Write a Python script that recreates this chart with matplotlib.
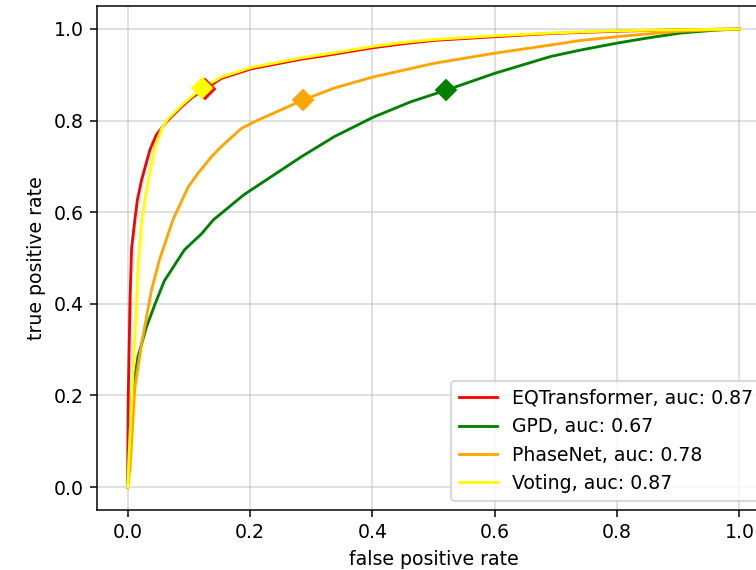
import matplotlib
matplotlib.use("Agg")
import matplotlib.pyplot as plt

labels = ["EQTransformer, auc: 0.87", "GPD, auc: 0.67", "PhaseNet, auc: 0.78", "Voting, auc: 0.87"]
colors = ["red", "green", "orange", "yellow"]

eqt_fpr = [0, 0.001, 0.004, 0.0065, 0.012, 0.016, 0.0228, 0.0364, 0.047, 0.066, 0.088, 0.107, 0.127,
           0.153, 0.186, 0.202, 0.284, 0.333, 0.401, 0.447, 0.501, 0.6, 0.692, 0.8, 0.9, 1.0]
eqt_tpr = [0, 0.19, 0.408, 0.52, 0.585, 0.627, 0.670, 0.736, 0.769, 0.801, 0.830, 0.852, 0.869,
           0.892, 0.906, 0.913, 0.934, 0.944, 0.959, 0.967, 0.975, 0.983, 0.990, 0.995, 0.998, 1.0]

gpd_fpr = [0, 0.0065, 0.017, 0.031, 0.045, 0.06, 0.093, 0.121, 0.14, 0.19, 0.284, 0.338, 0.401,
           0.463, 0.520, 0.600, 0.692, 0.741, 0.8, 0.849, 0.904, 0.958, 1.0]
gpd_tpr = [0, 0.19, 0.285, 0.35, 0.40, 0.45, 0.518, 0.553, 0.583, 0.638, 0.721, 0.765, 0.807,
           0.841, 0.866, 0.903, 0.940, 0.954, 0.969, 0.980, 0.991, 0.997, 1.0]

pn_fpr = [0, 0.004, 0.012, 0.023, 0.031, 0.039, 0.052, 0.0745, 0.099, 0.115, 0.137, 0.153, 0.186,
          0.213, 0.287, 0.338, 0.401, 0.501, 0.6, 0.692, 0.741, 0.8, 0.849, 0.904, 1.0]
pn_tpr = [0, 0.044, 0.219, 0.314, 0.372, 0.43, 0.496, 0.585, 0.655, 0.685, 0.721, 0.743, 0.783,
          0.801, 0.845, 0.871, 0.895, 0.925, 0.947, 0.965, 0.975, 0.983, 0.989, 0.995, 1.0]

vot_fpr = [0, 0.0065, 0.012, 0.017, 0.0228, 0.0337, 0.0446, 0.0555, 0.066, 0.088, 0.107, 0.121,
           0.153, 0.186, 0.202, 0.284, 0.333, 0.401, 0.447, 0.501, 0.6, 0.692, 0.8, 0.9, 1.0]
vot_tpr = [0, 0.19, 0.336, 0.481, 0.583, 0.670, 0.743, 0.782, 0.804, 0.833, 0.855, 0.870,
           0.895, 0.909, 0.916, 0.937, 0.947, 0.962, 0.970, 0.977, 0.985, 0.991, 0.996, 0.998, 1.0]

marker_fpr = [0.127, 0.520, 0.287, 0.121]
marker_tpr = [0.869, 0.866, 0.845, 0.870]

curves = [(eqt_fpr, eqt_tpr), (gpd_fpr, gpd_tpr), (pn_fpr, pn_tpr), (vot_fpr, vot_tpr)]

dpi = 136
fig = plt.figure(figsize=(756 / dpi, 570 / dpi), dpi=dpi)
ax = fig.add_axes([97 / 756, 60 / 570, 673 / 756, 504 / 570])

for (fx, ty), c, lab in zip(curves, colors, labels):
    ax.plot(fx, ty, color=c, label=lab)
for mx, my, c in zip(marker_fpr, marker_tpr, colors):
    ax.plot([mx], [my], "D", color=c, markersize=7.5)

ax.set_xlim(-0.05, 1.05)
ax.set_ylim(-0.05, 1.05)
ax.set_xticks([0, 0.2, 0.4, 0.6, 0.8, 1.0])
ax.set_yticks([0, 0.2, 0.4, 0.6, 0.8, 1.0])
ax.grid(True, alpha=0.5)
ax.set_xlabel("false positive rate")
ax.set_ylabel("true positive rate")
ax.legend(loc="lower right")

fig.savefig("out.png", dpi=dpi)
